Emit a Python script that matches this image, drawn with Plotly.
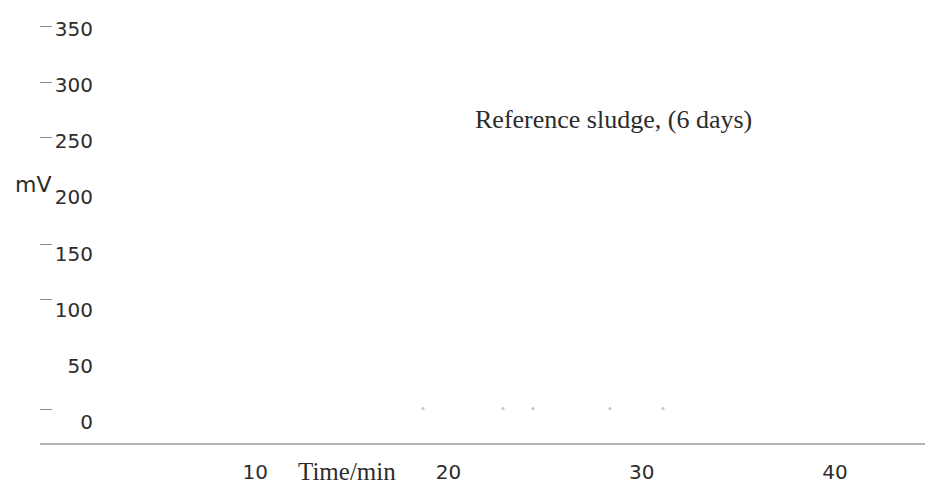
import plotly.graph_objects as go

# Potential readings (mV) against time (min)
time_min = [18.68, 22.82, 24.37, 28.36, 31.10]
potential_mv = [12, 12, 12, 12, 12]

y_ticks = [0, 50, 100, 150, 200, 250, 300, 350]
y_tick_text = ["0", "50", "100", "150", "200", "250", "300", "350"]
y_tick_marks = [11, 109, 158, 253, 302, 352]
x_ticks = [10, 20, 30, 40]
x_tick_text = ["10", "20", "30", "40"]

W, H = 925, 484
ML, MR, MT, MB = 40, 0, 0, 41
plot_w = W - ML - MR
plot_h = H - MT - MB

def paper_x(px):
    return (px - ML) / plot_w

def paper_y(py):
    return 1 - (py - MT) / plot_h

fig = go.Figure()

fig.add_trace(go.Scatter(
    x=time_min, y=potential_mv, mode="markers",
    marker=dict(size=3, color="#c4c4c4", symbol="circle"),
    showlegend=False, hoverinfo="skip",
))

# empty trace on the overlay axis that draws the short left dashes
fig.add_trace(go.Scatter(
    x=[None], y=[None], yaxis="y2", showlegend=False, hoverinfo="skip",
))

axis_font = dict(family="DejaVu Sans, Arial, sans-serif", size=20, color="#2c2c2c")
serif_font = dict(family="Liberation Serif, Times New Roman, serif", size=25, color="#2c2c2c")

fig.update_layout(
    width=W, height=H,
    margin=dict(l=ML, r=MR, t=MT, b=MB),
    paper_bgcolor="white", plot_bgcolor="white",
    xaxis=dict(
        range=[-1.14, 44.66],
        tickvals=x_ticks, ticktext=x_tick_text,
        showgrid=False, zeroline=False,
        showline=True, linecolor="#b4b4b4", linewidth=1.5,
        ticks="", ticklabelstandoff=10,
        tickfont=axis_font,
        anchor="y",
    ),
    yaxis=dict(
        range=[-18.8, 375.8],
        tickvals=y_ticks, ticktext=y_tick_text,
        showgrid=False, zeroline=False, showline=False,
        ticks="", tickfont=axis_font,
        anchor="free", position=paper_x(93),
    ),
    yaxis2=dict(
        range=[-18.8, 375.8],
        overlaying="y", anchor="free", position=paper_x(52),
        tickvals=y_tick_marks, showticklabels=False,
        ticks="outside", ticklen=12, tickwidth=1.2, tickcolor="#8a8a8a",
        showgrid=False, zeroline=False, showline=False,
    ),
    annotations=[
        dict(text="Reference sludge, (6 days)", xref="paper", yref="paper",
             x=paper_x(613), y=paper_y(119), xanchor="center", yanchor="middle",
             showarrow=False, font=dict(serif_font, size=26)),
        dict(text="mV", xref="paper", yref="paper",
             x=paper_x(33), y=paper_y(184), xanchor="center", yanchor="middle",
             showarrow=False, font=dict(axis_font, size=22)),
        dict(text="Time/min", xref="paper", yref="paper",
             x=paper_x(347), y=paper_y(471), xanchor="center", yanchor="middle",
             showarrow=False, font=serif_font),
    ],
)

fig.write_html("out.html")
